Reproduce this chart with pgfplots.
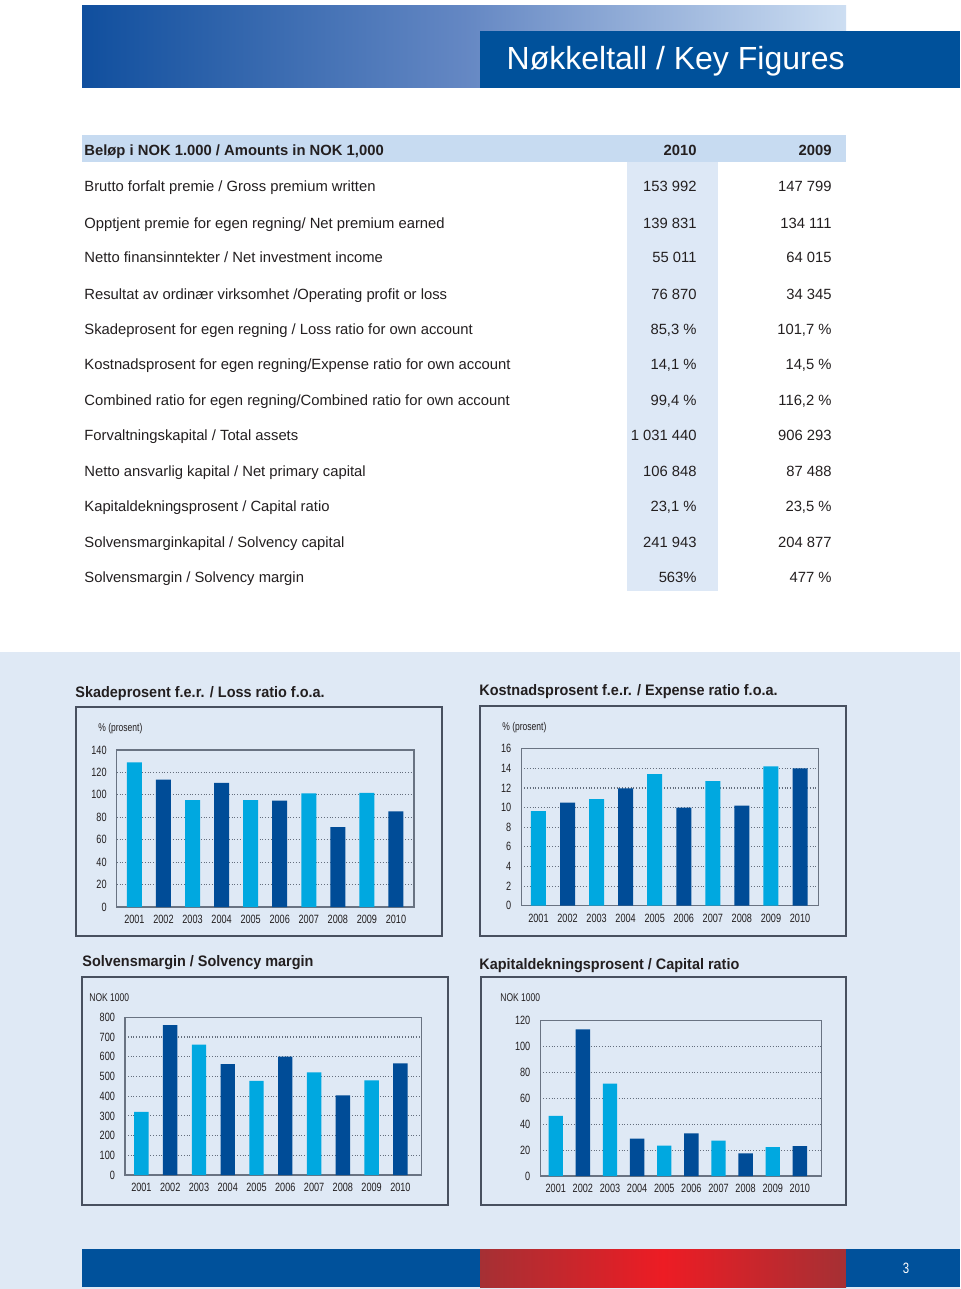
\documentclass[border=0pt]{standalone}
\usepackage{fontspec}
\setmainfont{Liberation Sans}
\newfontfamily\cond[FakeStretch=0.76]{Liberation Sans}
\newfontfamily\condb[FakeStretch=0.95]{Liberation Sans}
\usepackage{pgfplots}
\pgfplotsset{compat=1.18}
\definecolor{lightbar}{RGB}{0,168,224}
\definecolor{darkbar}{RGB}{0,76,151}
\definecolor{pageblue}{RGB}{0,81,155}
\definecolor{bgblue}{RGB}{223,233,245}
\definecolor{hdrblue}{RGB}{199,219,241}
\definecolor{colblue}{RGB}{221,232,246}
\definecolor{framegray}{RGB}{72,80,95}
\definecolor{axisgray}{RGB}{105,115,130}
\definecolor{gridgray}{RGB}{100,110,125}
\definecolor{redc}{RGB}{237,28,36}
\definecolor{redd}{RGB}{165,48,52}
\definecolor{bannerL}{RGB}{16,79,158}
\definecolor{bannerM}{RGB}{100,135,195}
\definecolor{bannerR}{RGB}{205,222,242}
\definecolor{txt}{RGB}{35,31,32}
\pgfplotsset{kf/.style={
  scale only axis, anchor=south west,
  ybar, bar shift=0pt, bar width=7.5pt,
  xtick={0,...,9},
  xticklabels={2001,2002,2003,2004,2005,2006,2007,2008,2009,2010},
  ymin=0,
  ymajorgrids, grid style={densely dotted, gridgray, line width=0.55pt},
  axis line style={axisgray, line width=0.6pt},
  major tick length=0pt,
  tick label style={font=\cond\fontsize{6}{7}\selectfont, text=txt},
  /pgf/number format/assume math mode=true,
  yticklabel style={xshift=-1.5pt},
  xticklabel style={yshift=-0.5pt},
  every axis plot/.append style={draw=none},
}}
\newcommand\trow[4]{%
  \node[anchor=base west,inner sep=0,text=txt] at (84,#1+5) {#2};
  \node[anchor=base east,inner sep=0,text=txt] at (697,#1+5) {#3};
  \node[anchor=base east,inner sep=0,text=txt] at (832,#1+5) {#4};}
\begin{document}
\begin{tikzpicture}
\begin{scope}[x=0.5pt,y=-0.5pt]
\fill[white] (0,0) rectangle (960,1289);
\useasboundingbox (0,0) rectangle (960,1289);
% banner
\shade[left color=bannerL, right color=bannerR, middle color=bannerM] (82,6) rectangle (846,88);
\fill[pageblue] (480,31) rectangle (960,88);
\node[anchor=base east, text=white, font=\fontsize{16}{18}\selectfont, inner sep=0] at (845,69.5) {Nøkkeltall / Key Figures};
% table
\fill[hdrblue] (82,135) rectangle (846,162);
\fill[colblue] (627,162) rectangle (718,591);
\begingroup
\fontsize{7.4}{8.5}\selectfont
\node[anchor=base west,inner sep=0,text=txt,font=\bfseries] at (84,156) {Beløp i NOK 1.000 / Amounts in NOK 1,000};
\node[anchor=base east,inner sep=0,text=txt,font=\bfseries] at (697,156) {2010};
\node[anchor=base east,inner sep=0,text=txt,font=\bfseries] at (832,156) {2009};
\trow{187}{Brutto forfalt premie / Gross premium written}{153 992}{147 799}
\trow{223}{Opptjent premie for egen regning/ Net premium earned}{139 831}{134 111}
\trow{258}{Netto finansinntekter / Net investment income}{55 011}{64 015}
\trow{294}{Resultat av ordinær virksomhet /Operating profit or loss}{76 870}{34 345}
\trow{329}{Skadeprosent for egen regning / Loss ratio for own account}{85,3 \%}{101,7 \%}
\trow{364}{Kostnadsprosent for egen regning/Expense ratio for own account}{14,1 \%}{14,5 \%}
\trow{400}{Combined ratio for egen regning/Combined ratio for own account}{99,4 \%}{116,2 \%}
\trow{435}{Forvaltningskapital / Total assets}{1 031 440}{906 293}
\trow{471}{Netto ansvarlig kapital / Net primary capital}{106 848}{87 488}
\trow{506}{Kapitaldekningsprosent / Capital ratio}{23,1 \%}{23,5 \%}
\trow{542}{Solvensmarginkapital / Solvency capital}{241 943}{204 877}
\trow{577}{Solvensmargin / Solvency margin}{563\%}{477 \%}
\endgroup
% lower background
\fill[bgblue] (0,652) rectangle (960,1289);
% chart titles
\begingroup
\condb\bfseries\fontsize{7.6}{8.5}\selectfont
\node[anchor=base west,inner sep=0,text=txt] at (75,697) {Skadeprosent f.e.r. / Loss ratio f.o.a.};
\node[anchor=base west,inner sep=0,text=txt] at (479,695) {Kostnadsprosent f.e.r. / Expense ratio f.o.a.};
\node[anchor=base west,inner sep=0,text=txt] at (82,966) {Solvensmargin / Solvency margin};
\node[anchor=base west,inner sep=0,text=txt] at (479,969) {Kapitaldekningsprosent / Capital ratio};
\endgroup
% frames
\draw[framegray, line width=0.8pt] (76,707) rectangle (442,936);
\draw[framegray, line width=0.8pt] (480,706) rectangle (846,936);
\draw[framegray, line width=0.8pt] (82,977) rectangle (448,1205);
\draw[framegray, line width=0.8pt] (481,977) rectangle (846,1205);
% unit labels
\begingroup
\cond\fontsize{5.6}{6.5}\selectfont
\node[anchor=west,inner sep=0,text=txt] at (98,729) {\% (prosent)};
\node[anchor=west,inner sep=0,text=txt] at (502,728) {\% (prosent)};
\node[anchor=west,inner sep=0,text=txt] at (89,998) {NOK 1000};
\node[anchor=west,inner sep=0,text=txt] at (500,998) {NOK 1000};
\endgroup
% footer
\fill[pageblue] (82,1249) rectangle (480,1287);
\shade[left color=redd, right color=redd, middle color=redc] (480,1249) rectangle (846,1287);
\fill[pageblue] (846,1249) rectangle (960,1287);
\node[text=white, font=\cond\fontsize{7.5}{8.5}\selectfont, inner sep=0] at (906,1268) {3};
% anchor points
\coordinate (P1) at (116.7,907);
\coordinate (P2) at (521.3,905.7);
\coordinate (P3) at (125,1175);
\coordinate (P4) at (540.3,1176);
\end{scope}

\begin{axis}[kf, at={(P1)}, width=148.65pt, height=78.5pt,
  xmin=-0.61, xmax=9.62, ymax=140, ytick={0,20,...,140}]
\addplot[fill=lightbar] coordinates {(0,129) (2,95.4) (4,95.4) (6,101.4) (8,101.7)};
\addplot[fill=darkbar] coordinates {(1,113.5) (3,110.6) (5,94.8) (7,71.3) (9,85.3)};
\end{axis}

\begin{axis}[kf, at={(P2)}, width=148.5pt, height=78.5pt,
  xmin=-0.59, xmax=9.63, ymax=16, ytick={0,2,...,16}]
\addplot[fill=lightbar] coordinates {(0,9.65) (2,10.87) (4,13.4) (6,12.7) (8,14.2)};
\addplot[fill=darkbar] coordinates {(1,10.5) (3,11.96) (5,10.0) (7,10.2) (9,14.0)};
\end{axis}

\begin{axis}[kf, at={(P3)}, width=148.35pt, height=78.85pt, bar width=7.2pt,
  xmin=-0.57, xmax=9.74, ymax=800, ytick={0,100,...,800}]
\addplot[fill=lightbar] coordinates {(0,320) (2,662) (4,477) (6,521) (8,480)};
\addplot[fill=darkbar] coordinates {(1,760) (3,563) (5,601) (7,404) (9,566)};
\end{axis}

\begin{axis}[kf, at={(P4)}, width=140.5pt, height=77.65pt, bar width=7.2pt,
  xmin=-0.57, xmax=9.79, ymax=120, ytick={0,20,...,120}]
\addplot[fill=lightbar] coordinates {(0,46.4) (2,71.3) (4,23.4) (6,27.3) (8,22.4)};
\addplot[fill=darkbar] coordinates {(1,113.3) (3,28.8) (5,33.0) (7,17.5) (9,23.0)};
\end{axis}
\end{tikzpicture}
\end{document}
